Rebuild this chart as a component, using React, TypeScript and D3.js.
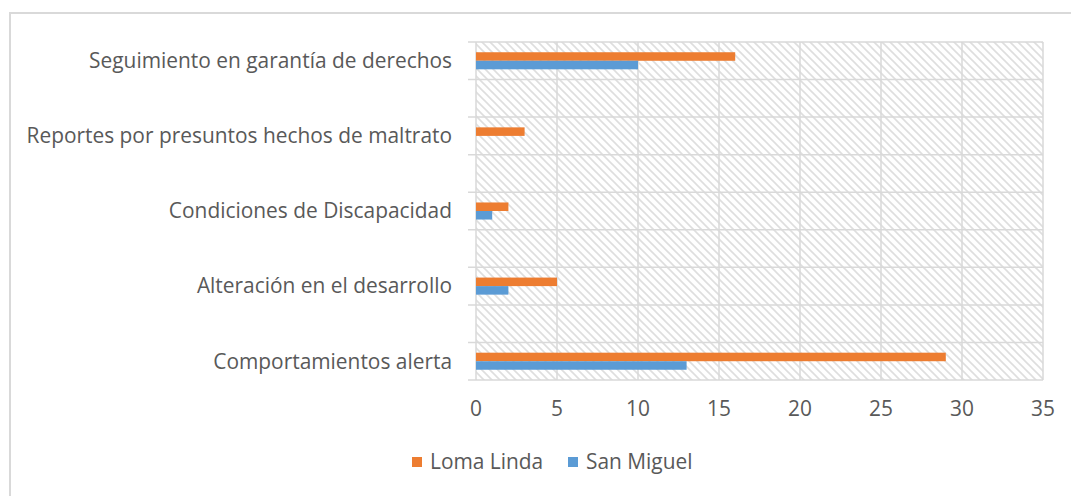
import React from 'react';
import * as d3 from 'd3';

// categorias (con filas vacias como en el original)
const categories = [
  'Seguimiento en garantía de derechos',
  '',
  'Reportes por presuntos hechos de maltrato',
  ' ',
  'Condiciones de Discapacidad',
  '  ',
  'Alteración en el desarrollo',
  '   ',
  'Comportamientos alerta',
];
const lomaLinda = [16, null, 3, null, 2, null, 5, null, 29];
const sanMiguel = [10, null, 0, null, 1, null, 2, null, 13];
const xTicks = [0, 5, 10, 15, 20, 25, 30, 35];
const seriesNames = ['Loma Linda', 'San Miguel'];
const seriesColors = ['#ed7d31', '#5b9bd5'];

const W = 1071, H = 496;
const plot = { left: 476, right: 1043, top: 42, bottom: 380 };
const font = "'Open Sans', sans-serif";
const fs = 20.9;
const textColor = '#595959';

export default function App() {
  const x = d3.scaleLinear().domain([0, 35]).range([plot.left, plot.right]);
  const y = d3.scaleBand().domain(categories).range([plot.top, plot.bottom]);
  const inner = d3.scaleBand().domain(seriesNames).range([0, y.bandwidth()]).paddingOuter(1.2);
  const boundaries = d3.range(categories.length + 1).map(i => plot.top + i * y.step());
  const series = [lomaLinda, sanMiguel];

  return (
    <svg width={W} height={H} style={{ position: 'absolute', left: 0, top: 0 }}>
      <defs>
        <pattern id="hatch" width="8" height="8" patternUnits="userSpaceOnUse">
          <rect width="8" height="8" fill="#fff" />
          <path d="M-2,-2 L10,10 M-2,6 L2,10 M6,-2 L10,2" stroke="#dedede" strokeWidth="1.6" />
        </pattern>
      </defs>
      <rect x={0} y={0} width={W} height={H} fill="#fff" />
      <rect x={10} y={13} width={W + 20} height={H + 20} fill="none" stroke="#d9d9d9" strokeWidth={2} />

      <rect x={plot.left} y={plot.top} width={plot.right - plot.left} height={plot.bottom - plot.top} fill="url(#hatch)" />

      {xTicks.map(t => (
        <line key={'vx' + t} x1={x(t)} x2={x(t)} y1={plot.top} y2={plot.bottom} stroke="#d9d9d9" strokeWidth={1.5} />
      ))}
      {boundaries.map((b, i) => (
        <line key={'hy' + i} x1={plot.left - 8} x2={plot.right} y1={b} y2={b} stroke="#d9d9d9" strokeWidth={1.5} />
      ))}

      {series.map((vals, si) =>
        vals.map((v, i) =>
          v ? (
            <rect key={si + '-' + i}
              x={x(0)} y={(y(categories[i]) as number) + (inner(seriesNames[si]) as number)}
              width={x(v) - x(0)} height={inner.bandwidth()}
              fill={seriesColors[si]} />
          ) : null
        )
      )}

      {categories.map(c => c.trim() ? (
        <text key={c} x={452} y={(y(c) as number) + y.bandwidth() / 2} dy="0.35em"
          textAnchor="end" fontFamily={font} fontSize={fs} fill={textColor}>{c}</text>
      ) : null)}

      {xTicks.map(t => (
        <text key={'tx' + t} x={x(t)} y={409} dy="0.35em" textAnchor="middle"
          fontFamily={font} fontSize={fs} fill={textColor}>{t}</text>
      ))}

      {seriesNames.map((n, i) => {
        const lx = [412, 568][i];
        return (
          <g key={n}>
            <rect x={lx} y={457} width={10} height={10} fill={seriesColors[i]} />
            <text x={lx + 18} y={462} dy="0.35em" fontFamily={font} fontSize={fs} fill={textColor}>{n}</text>
          </g>
        );
      })}
    </svg>
  );
}
